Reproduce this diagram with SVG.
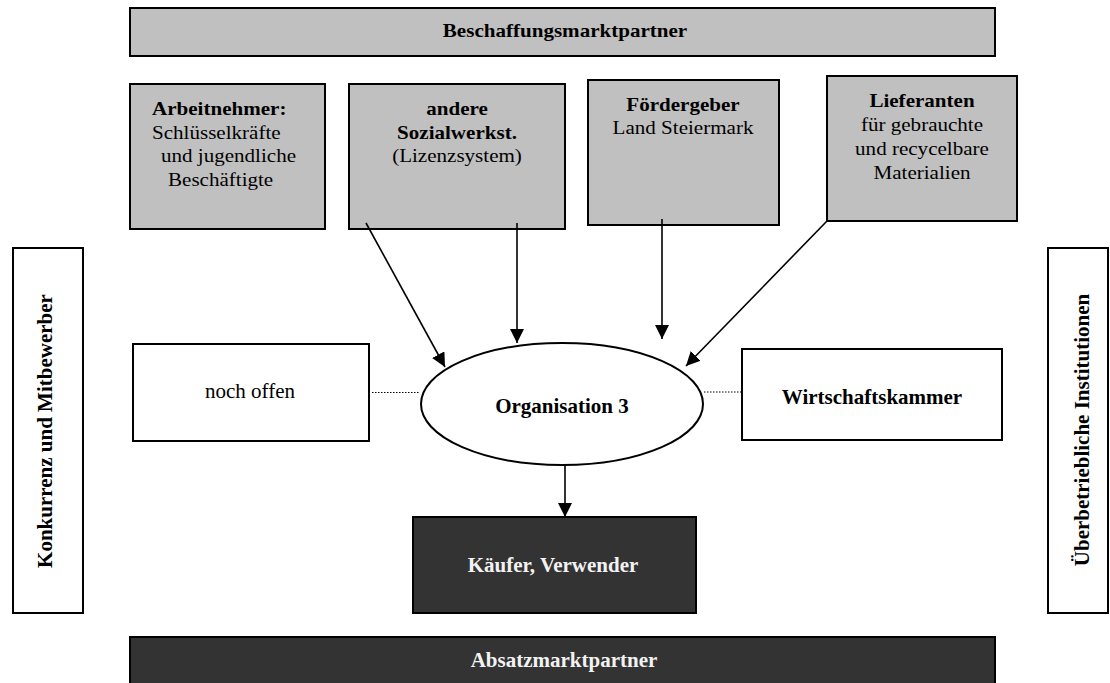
<svg xmlns="http://www.w3.org/2000/svg" width="1110" height="683" viewBox="0 0 1110 683">
  <style>
    .t { font-family: "Liberation Serif", "Times New Roman", serif; font-size: 18px; fill: #000; }
    .b { font-weight: bold; }
    .big { font-size: 21px; }
    .mid { text-anchor: middle; }
    .light { fill: #f2f2f2; }
    .gray { fill: #c0c0c0; stroke: #000; stroke-width: 2; }
    .dark { fill: #333333; stroke: #000; stroke-width: 2; }
    .white { fill: #ffffff; stroke: #000; stroke-width: 2; }
    .arrow { stroke: #000; stroke-width: 1.6; fill: none; marker-end: url(#head); }
    .dot { stroke: #000; stroke-width: 1; stroke-dasharray: 1.5 1.5; fill: none; }
  </style>
  <defs>
    <marker id="head" markerUnits="userSpaceOnUse" markerWidth="14" markerHeight="14" refX="14" refY="7" orient="auto">
      <path d="M0,0 L14,7 L0,14 z" fill="#000"/>
    </marker>
  </defs>

  <rect width="1110" height="683" fill="#ffffff"/>

  <!-- procurement market band -->
  <g id="beschaffung">
    <rect class="gray" x="130" y="8" width="865" height="48"/>
    <text class="t b mid" transform="translate(565 37) scale(1.17 1)">Beschaffungsmarktpartner</text>
  </g>

  <g id="arbeitnehmer">
    <rect class="gray" x="130" y="84" width="195" height="145"/>
    <text class="t b" transform="translate(152 115) scale(1.17 1)">Arbeitnehmer:</text>
    <text class="t" transform="translate(152 138.5) scale(1.17 1)">Schlüsselkräfte</text>
    <text class="t" transform="translate(161 162) scale(1.17 1)">und jugendliche</text>
    <text class="t" transform="translate(168 186) scale(1.17 1)">Beschäftigte</text>
  </g>

  <g id="sozialwerkstaetten">
    <rect class="gray" x="349" y="84" width="216" height="145"/>
    <text class="t b mid" transform="translate(457 115) scale(1.17 1)">andere</text>
    <text class="t b mid" transform="translate(457 138.5) scale(1.17 1)">Sozialwerkst.</text>
    <text class="t mid" transform="translate(457 162) scale(1.17 1)">(Lizenzsystem)</text>
  </g>

  <g id="foerdergeber">
    <rect class="gray" x="588" y="80" width="191" height="145"/>
    <text class="t b mid" transform="translate(683 111) scale(1.17 1)">Fördergeber</text>
    <text class="t mid" transform="translate(683 134) scale(1.17 1)">Land Steiermark</text>
  </g>

  <g id="lieferanten">
    <rect class="gray" x="827" y="76" width="190" height="145"/>
    <text class="t b mid" transform="translate(922 107) scale(1.17 1)">Lieferanten</text>
    <text class="t mid" transform="translate(922 131) scale(1.17 1)">für gebrauchte</text>
    <text class="t mid" transform="translate(922 155) scale(1.17 1)">und recycelbare</text>
    <text class="t mid" transform="translate(922 179) scale(1.17 1)">Materialien</text>
  </g>

  <!-- competitors (left) -->
  <g id="konkurrenz">
    <rect class="white" x="13" y="248" width="70" height="365"/>
    <text class="t b big mid" transform="translate(52 431) rotate(-90)">Konkurrenz und Mitbewerber</text>
  </g>

  <!-- umbrella institutions (right) -->
  <g id="institutionen">
    <rect class="white" x="1048" y="248" width="60" height="365"/>
    <text class="t b big mid" transform="translate(1089 430) rotate(-90)">Überbetriebliche Institutionen</text>
  </g>

  <g id="noch-offen">
    <rect class="white" x="133" y="344" width="236" height="97"/>
    <text class="t big mid" x="250" y="398">noch offen</text>
  </g>

  <g id="organisation">
    <ellipse class="white" cx="562" cy="404" rx="141" ry="61"/>
    <text class="t b big mid" x="562" y="413">Organisation 3</text>
  </g>

  <g id="wirtschaftskammer">
    <rect class="white" x="742" y="349" width="260" height="91"/>
    <text class="t b big mid" x="872" y="404">Wirtschaftskammer</text>
  </g>

  <g id="kaeufer">
    <rect class="dark" x="413" y="517" width="283" height="96"/>
    <text class="t b big mid light" x="553" y="572">Käufer, Verwender</text>
  </g>

  <!-- sales market band -->
  <g id="absatz">
    <rect class="dark" x="130" y="637" width="865" height="50"/>
    <text class="t b big mid light" x="564" y="667">Absatzmarktpartner</text>
  </g>

  <g id="connectors">
    <line class="arrow" x1="366" y1="223" x2="445" y2="367"/>
    <line class="arrow" x1="517" y1="223" x2="517" y2="343"/>
    <line class="arrow" x1="662" y1="219" x2="662" y2="339"/>
    <line class="arrow" x1="827" y1="221" x2="686" y2="366"/>
    <line class="arrow" x1="565" y1="465" x2="565" y2="517"/>
    <line class="dot" x1="372" y1="392.5" x2="420" y2="392.5"/>
    <line class="dot" x1="704" y1="392" x2="742" y2="392"/>
  </g>
</svg>
